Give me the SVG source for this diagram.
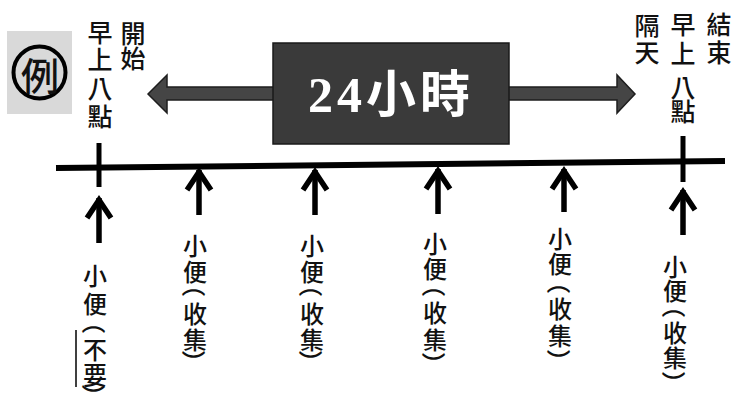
<svg xmlns="http://www.w3.org/2000/svg" width="733" height="396" viewBox="0 0 733 396">
  <defs>
    <style>
      .cjk { font-family: "Noto Sans CJK TC", "Noto Sans CJK SC", sans-serif; font-weight: 500; fill: #111; text-anchor: middle; dominant-baseline: central; }
      .top { font-size: 25px; }
      .lab { font-size: 24px; }
      .tick { stroke: #000; stroke-width: 5; }
      .up { stroke: #000; stroke-width: 5.5; fill: none; marker-end: url(#chev); }
    </style>
    <marker id="chev" viewBox="-24 -16 28 32" markerWidth="28" markerHeight="32" refX="0" refY="0" orient="auto" markerUnits="userSpaceOnUse">
      <path d="M-20,-12 L-2,0 L-20,12" fill="none" stroke="#000" stroke-width="5.5" stroke-linejoin="miter" stroke-miterlimit="10"/>
    </marker>
  </defs>
  <rect width="733" height="396" fill="#fff"/>

  <g id="example-badge">
    <rect x="7" y="31" width="65" height="83" fill="#d9d9d9"/>
    <circle cx="39.5" cy="72.5" r="26" fill="none" stroke="#000" stroke-width="4"/>
    <text x="40" y="73" class="cjk" font-size="38" font-weight="bold">例</text>
  </g>

  <g id="duration-arrow">
    <polygon points="148,94 167,75 167,87 617,87 617,75 635,94 617,113 617,100 167,100 167,113" fill="#454545" stroke="#1e1e1e" stroke-width="1.5" stroke-linejoin="miter"/>
  </g>

  <g id="duration-box">
    <rect x="273" y="43" width="236" height="101" fill="#3a3a3a" stroke="#1a1a1a" stroke-width="1.5"/>
    <text x="391" y="112" text-anchor="middle" font-family="'Liberation Serif', 'Noto Sans CJK TC', serif" font-size="50" font-weight="bold" letter-spacing="4" fill="#fff">24小時</text>
  </g>

  <g id="start-label">
    <text class="cjk top"><tspan x="100" y="31">早</tspan><tspan x="100" y="58">上</tspan><tspan x="100" y="87">八</tspan><tspan x="100" y="115">點</tspan></text>
    <text class="cjk top"><tspan x="133" y="32">開</tspan><tspan x="133" y="57">始</tspan></text>
  </g>

  <g id="end-label">
    <text class="cjk top"><tspan x="647" y="24">隔</tspan><tspan x="647" y="51">天</tspan></text>
    <text class="cjk top"><tspan x="683" y="23">早</tspan><tspan x="683" y="52">上</tspan><tspan x="683" y="86">八</tspan><tspan x="683" y="110">點</tspan></text>
    <text class="cjk top"><tspan x="719" y="23">結</tspan><tspan x="719" y="51">束</tspan></text>
  </g>

  <g id="timeline">
    <line x1="56" y1="168" x2="725" y2="161" stroke="#000" stroke-width="6"/>
    <line x1="99" y1="143" x2="99" y2="187" class="tick"/>
    <line x1="683" y1="136" x2="683" y2="182" class="tick"/>
  </g>

  <g id="connectors">
    <line x1="99" y1="243" x2="99" y2="198" class="up"/>
    <line x1="199" y1="215" x2="199" y2="170" class="up"/>
    <line x1="315" y1="215" x2="315" y2="170" class="up"/>
    <line x1="438" y1="214" x2="438" y2="169" class="up"/>
    <line x1="564" y1="212" x2="564" y2="169" class="up"/>
    <line x1="683" y1="235" x2="683" y2="190" class="up"/>
  </g>

  <g id="urine-1">
    <text class="cjk lab"><tspan x="95" y="274">小</tspan><tspan x="95" y="302">便</tspan></text>
    <text class="cjk lab" x="95" y="322" transform="rotate(90 95 322)">（</text>
    <text class="cjk lab"><tspan x="95" y="348">不</tspan><tspan x="95" y="373">要</tspan></text>
    <text class="cjk lab" x="95" y="396" transform="rotate(90 95 396)">）</text>
    <line x1="76" y1="330" x2="76" y2="387" stroke="#000" stroke-width="1.5"/>
  </g>
  <g id="urine-2">
    <text class="cjk lab"><tspan x="195" y="244">小</tspan><tspan x="195" y="270">便</tspan></text>
    <text class="cjk lab" x="195" y="285" transform="rotate(90 195 285)">（</text>
    <text class="cjk lab"><tspan x="195" y="312">收</tspan><tspan x="195" y="338">集</tspan></text>
    <text class="cjk lab" x="195" y="362" transform="rotate(90 195 362)">）</text>
  </g>
  <g id="urine-3">
    <text class="cjk lab"><tspan x="312" y="244">小</tspan><tspan x="312" y="270">便</tspan></text>
    <text class="cjk lab" x="312" y="285" transform="rotate(90 312 285)">（</text>
    <text class="cjk lab"><tspan x="312" y="312">收</tspan><tspan x="312" y="338">集</tspan></text>
    <text class="cjk lab" x="312" y="362" transform="rotate(90 312 362)">）</text>
  </g>
  <g id="urine-4">
    <text class="cjk lab"><tspan x="435" y="242">小</tspan><tspan x="435" y="267">便</tspan></text>
    <text class="cjk lab" x="435" y="285" transform="rotate(90 435 285)">（</text>
    <text class="cjk lab"><tspan x="435" y="311">收</tspan><tspan x="435" y="338">集</tspan></text>
    <text class="cjk lab" x="435" y="364" transform="rotate(90 435 364)">）</text>
  </g>
  <g id="urine-5">
    <text class="cjk lab"><tspan x="560" y="237">小</tspan><tspan x="560" y="262">便</tspan></text>
    <text class="cjk lab" x="560" y="282" transform="rotate(90 560 282)">（</text>
    <text class="cjk lab"><tspan x="560" y="307">收</tspan><tspan x="560" y="334">集</tspan></text>
    <text class="cjk lab" x="560" y="361" transform="rotate(90 560 361)">）</text>
  </g>
  <g id="urine-6">
    <text class="cjk lab"><tspan x="675" y="265">小</tspan><tspan x="675" y="289">便</tspan></text>
    <text class="cjk lab" x="675" y="306" transform="rotate(90 675 306)">（</text>
    <text class="cjk lab"><tspan x="675" y="331">收</tspan><tspan x="675" y="356">集</tspan></text>
    <text class="cjk lab" x="675" y="383" transform="rotate(90 675 383)">）</text>
  </g>
</svg>
